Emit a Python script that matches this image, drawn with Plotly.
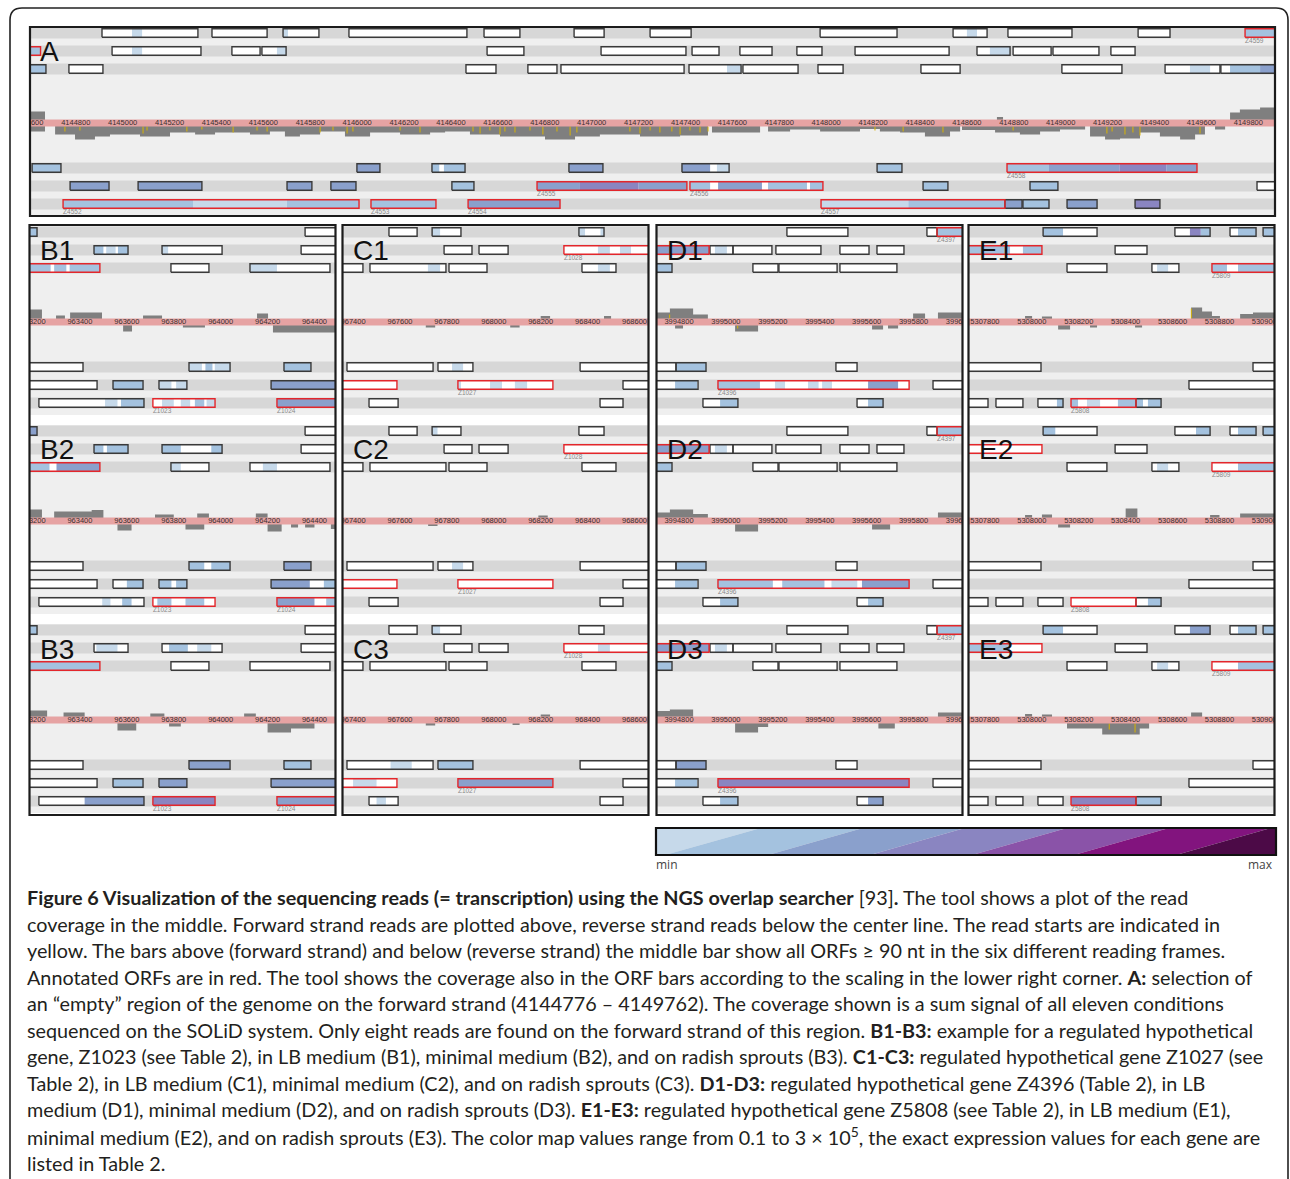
import plotly.graph_objects as go

W, H = 1290, 1179
BP_PER_PX = 4.264          # genome zoom shared by every panel

# colour steps of the coverage scale, low -> high
SCALE_COLORS = ["#c6d9ea", "#a4c2df", "#8aa0cc", "#8a85c1", "#8a53a8", "#82147e", "#4c0a47"]

# ---------------------------------------------------------------- panel A
A_START = 4144605
A_TICKS = [4144600, 4144800, 4145000, 4145200, 4145400, 4145600, 4145800, 4146000,
           4146200, 4146400, 4146600, 4146800, 4147000, 4147200, 4147400, 4147600,
           4147800, 4148000, 4148200, 4148400, 4148600, 4148800, 4149000, 4149200,
           4149400, 4149600, 4149800]
# frame, start, end, annotated, label
A_ORFS = [
    ("+1", 4144912, 4145321, False, ""), ("+1", 4145381, 4145616, False, ""),
    ("+1", 4145684, 4145837, False, ""), ("+1", 4145965, 4146468, False, ""),
    ("+1", 4146541, 4146694, False, ""), ("+1", 4146925, 4147053, False, ""),
    ("+1", 4147249, 4147424, False, ""), ("+1", 4147974, 4148302, False, ""),
    ("+1", 4148541, 4148686, False, ""), ("+1", 4148775, 4149048, False, ""),
    ("+1", 4149330, 4149466, False, ""), ("+1", 4149786, 4149990, True, "Z4559"),
    ("+2", 4144540, 4144650, True, ""), ("+2", 4144955, 4145334, False, ""),
    ("+2", 4145466, 4145586, False, ""), ("+2", 4145594, 4145697, False, ""),
    ("+2", 4146554, 4146711, False, ""), ("+2", 4147040, 4147402, False, ""),
    ("+2", 4147428, 4147543, False, ""), ("+2", 4147632, 4147769, False, ""),
    ("+2", 4147875, 4147982, False, ""), ("+2", 4148123, 4148524, False, ""),
    ("+2", 4148643, 4148784, False, ""), ("+2", 4148797, 4148959, False, ""),
    ("+2", 4148967, 4149163, False, ""), ("+2", 4149214, 4149317, False, ""),
    ("+3", 4144540, 4144673, False, ""), ("+3", 4144771, 4144916, False, ""),
    ("+3", 4146464, 4146592, False, ""), ("+3", 4146728, 4146852, False, ""),
    ("+3", 4146869, 4147394, False, ""), ("+3", 4147415, 4147637, False, ""),
    ("+3", 4147645, 4147880, False, ""), ("+3", 4147965, 4148072, False, ""),
    ("+3", 4148404, 4148571, False, ""), ("+3", 4149005, 4149261, False, ""),
    ("+3", 4149445, 4149679, False, ""), ("+3", 4149683, 4149990, False, ""),
    ("-1", 4144614, 4144737, False, ""), ("-1", 4145999, 4146097, False, ""),
    ("-1", 4146319, 4146460, False, ""), ("-1", 4146903, 4147048, False, ""),
    ("-1", 4147385, 4147586, False, ""), ("-1", 4148217, 4148323, False, ""),
    ("-1", 4148771, 4149581, True, "Z4558"),
    ("-2", 4144776, 4144942, False, ""), ("-2", 4145066, 4145338, False, ""),
    ("-2", 4145701, 4145807, False, ""), ("-2", 4145888, 4145995, False, ""),
    ("-2", 4146404, 4146498, False, ""), ("-2", 4146767, 4147406, True, "Z4555"),
    ("-2", 4147419, 4147986, True, "Z4556"), ("-2", 4148413, 4148519, False, ""),
    ("-2", 4148869, 4148988, False, ""), ("-2", 4149837, 4149990, False, ""),
    ("-3", 4144746, 4146008, True, "Z4552"), ("-3", 4146059, 4146336, True, "Z4553"),
    ("-3", 4146473, 4146865, True, "Z4554"), ("-3", 4147978, 4148762, True, "Z4557"),
    ("-3", 4148762, 4148835, False, ""), ("-3", 4148839, 4148950, False, ""),
    ("-3", 4149027, 4149155, False, ""), ("-3", 4149317, 4149423, False, ""),
]
# frame, start, end, colour step of the read coverage inside an ORF bar
A_PATCHES = [
    ("+1", 4145040, 4145083, 0), ("+1", 4145684, 4145705, 0), ("+1", 4148600, 4148643, 0),
    ("+1", 4149786, 4149990, 1),
    ("+2", 4144540, 4144650, 1), ("+2", 4145040, 4145083, 0), ("+2", 4145658, 4145697, 0),
    ("+2", 4148698, 4148784, 0),
    ("+3", 4144540, 4144673, 1), ("+3", 4147577, 4147637, 0), ("+3", 4149551, 4149637, 0),
    ("+3", 4149722, 4149850, 1), ("+3", 4149850, 4149990, 2),
    ("-1", 4144614, 4144737, 1), ("-1", 4145999, 4146097, 2), ("-1", 4146319, 4146350, 1),
    ("-1", 4146370, 4146460, 1), ("-1", 4146903, 4147048, 2), ("-1", 4147385, 4147505, 2),
    ("-1", 4147534, 4147586, 0), ("-1", 4148217, 4148323, 1), ("-1", 4148771, 4148950, 1),
    ("-1", 4148950, 4149250, 2), ("-1", 4149250, 4149450, 3), ("-1", 4149450, 4149581, 2),
    ("-2", 4144776, 4144942, 2), ("-2", 4145066, 4145338, 2), ("-2", 4145701, 4145807, 2),
    ("-2", 4145888, 4145995, 2), ("-2", 4146404, 4146498, 1), ("-2", 4146767, 4146950, 2),
    ("-2", 4146950, 4147200, 3), ("-2", 4147200, 4147406, 2), ("-2", 4147419, 4147505, 1),
    ("-2", 4147539, 4147726, 2), ("-2", 4147752, 4147918, 1), ("-2", 4147931, 4147986, 1),
    ("-2", 4148413, 4148519, 1), ("-2", 4148869, 4148988, 1),
    ("-3", 4144746, 4145300, 1), ("-3", 4145300, 4145700, 0), ("-3", 4145700, 4146008, 1),
    ("-3", 4146059, 4146336, 1), ("-3", 4146473, 4146865, 2), ("-3", 4147978, 4148350, 0),
    ("-3", 4148350, 4148762, 1), ("-3", 4148762, 4148835, 2), ("-3", 4148839, 4148950, 1),
    ("-3", 4149027, 4149155, 2), ("-3", 4149317, 4149423, 3),
]
# start, end, height (forward strand > 0, reverse strand < 0)
A_COVERAGE = [
    (4144560, 4144669, 11.5), (4144560, 4144669, -8.5),
    (4144712, 4144797, -11.5), (4144797, 4144882, -16.5), (4144882, 4144946, -13.5),
    (4144946, 4145074, -11.5), (4145074, 4145202, -13.5), (4145202, 4145309, -9.5),
    (4145309, 4145394, -11.5), (4145394, 4145543, -9.5), (4145543, 4145628, -11.5),
    (4145628, 4145692, -8.5), (4145692, 4145756, -13.5), (4145756, 4145842, -11.5),
    (4145842, 4145948, -8.5), (4145948, 4146055, -13.5), (4146055, 4146183, -9.5),
    (4146183, 4146311, -11.5), (4146311, 4146375, -9.5), (4146375, 4146481, -8.5),
    (4146481, 4146609, -11.5), (4146609, 4146801, -13.5), (4146801, 4146929, -16.5),
    (4146929, 4147035, -13.5), (4147035, 4147206, -11.5), (4147206, 4147377, -13.5),
    (4147377, 4147496, -12.5), (4147513, 4147718, -9.5), (4147752, 4147846, -8.5),
    (4147846, 4147974, -6.5), (4147974, 4148144, -8.5), (4148144, 4148229, -6.0),
    (4148229, 4148315, -8.5), (4148315, 4148421, -9.5), (4148421, 4148528, -13.5),
    (4148528, 4148571, -8.5), (4148579, 4148720, -7.0), (4148728, 4148754, 6.0),
    (4148720, 4148826, -9.5), (4148826, 4148912, -11.5), (4148912, 4148997, -8.5),
    (4148997, 4149104, -6.5), (4149125, 4149189, -13.5), (4149189, 4149253, -16.5),
    (4149253, 4149338, -15.5), (4149338, 4149423, -9.5), (4149423, 4149509, -13.5),
    (4149509, 4149573, -16.5), (4149573, 4149615, -11.5), (4149658, 4149701, -6.5),
    (4149722, 4149764, 10.5), (4149764, 4149850, 13.5), (4149850, 4149990, 15.5),
]
# read start position, tick length (sign = strand)
A_READ_STARTS = [
    (4144754, -5), (4144818, -4), (4145087, -7), (4145104, -4), (4145274, -5), (4145338, -3),
    (4145471, -6), (4145573, -4), (4145616, -5), (4145842, -6), (4145897, -4), (4145957, -7),
    (4145982, -5), (4146183, -4), (4146268, -6), (4146494, -5), (4146524, -7), (4146566, -4),
    (4146609, -8), (4146630, -5), (4146673, -6), (4146737, -4), (4146792, -8), (4146852, -5),
    (4146908, -9), (4146937, -6), (4147163, -5), (4147206, -7), (4147249, -4), (4147291, -6),
    (4147342, -5), (4147377, -8), (4147419, -4), (4147462, -6), (4147496, -5), (4148208, -4),
    (4148328, -5), (4148498, -6), (4148797, -4), (4149197, -7), (4149219, -5), (4149274, -8),
    (4149308, -6), (4149338, -9), (4149594, -7),
]

# ---------------------------------------------------------------- panels B-E
B_START = 963187
B_TICKS = [963200, 963400, 963600, 963800, 964000, 964200, 964400]
B_ORFS = [
    ("+1", 963150, 963217, False, ""), ("+1", 964360, 964520, False, ""),
    ("+2", 963460, 963605, False, ""), ("+2", 963750, 964006, False, ""), ("+2", 964343, 964520, False, ""),
    ("+3", 963150, 963485, True, ""), ("+3", 963788, 963950, False, ""), ("+3", 964125, 964466, False, ""),
    ("-1", 963150, 963413, False, ""), ("-1", 963865, 964040, False, ""), ("-1", 964270, 964385, False, ""),
    ("-2", 963150, 963473, False, ""), ("-2", 963541, 963669, False, ""), ("-2", 963737, 963856, False, ""),
    ("-2", 964215, 964520, False, ""),
    ("-3", 963225, 963673, False, ""), ("-3", 963711, 963976, True, "Z1023"), ("-3", 964240, 964520, True, "Z1024"),
]
B1_PATCHES = [
    ("+1", 963150, 963217, 1),
    ("+2", 963460, 963500, 1), ("+2", 963512, 963552, 0), ("+2", 963562, 963605, 1), ("+2", 963750, 963776, 0),
    ("+3", 963150, 963275, 1), ("+3", 963290, 963342, 1), ("+3", 963356, 963485, 1), ("+3", 964125, 964240, 0),
    ("-1", 963865, 963920, 0), ("-1", 963935, 963965, 1), ("-1", 963975, 964040, 0), ("-1", 964270, 964385, 1),
    ("-2", 963541, 963669, 1), ("-2", 963737, 963790, 0), ("-2", 963810, 963856, 0), ("-2", 964215, 964520, 2),
    ("-3", 963507, 963560, 0), ("-3", 963575, 963673, 1), ("-3", 963750, 963800, 0), ("-3", 963830, 963870, 0),
    ("-3", 963890, 963930, 1), ("-3", 963940, 963976, 0), ("-3", 964240, 964520, 2),
]
B2_PATCHES = [
    ("+1", 963150, 963217, 2),
    ("+2", 963460, 963500, 1), ("+2", 963515, 963605, 1), ("+2", 963750, 963830, 1), ("+2", 963960, 964006, 1),
    ("+3", 963150, 963270, 1), ("+3", 963300, 963485, 2), ("+3", 963788, 963830, 0), ("+3", 964180, 964240, 0),
    ("-1", 963865, 963930, 1), ("-1", 963960, 964040, 1), ("-1", 964270, 964385, 2),
    ("-2", 963600, 963669, 1), ("-2", 963737, 963790, 1), ("-2", 963810, 963856, 1),
    ("-2", 964215, 964380, 2), ("-2", 964440, 964520, 1),
    ("-3", 963495, 963530, 0), ("-3", 963580, 963620, 1), ("-3", 963730, 963790, 1), ("-3", 963850, 963930, 1),
    ("-3", 964240, 964400, 2), ("-3", 964450, 964520, 1),
]
B3_PATCHES = [
    ("+1", 963150, 963217, 1),
    ("+2", 963470, 963560, 0), ("+2", 963780, 963860, 1), ("+2", 963900, 963960, 0),
    ("+3", 963150, 963485, 1),
    ("-1", 963865, 964040, 2), ("-1", 964270, 964385, 1),
    ("-2", 963541, 963669, 1), ("-2", 963737, 963856, 2), ("-2", 964215, 964520, 2),
    ("-3", 963420, 963673, 2), ("-3", 963711, 963976, 3), ("-3", 964240, 964520, 2),
]
B1_COVERAGE = [(963150, 963238, 12.5), (963298, 963336, 6.5), (963358, 963494, 9.5), (963669, 963750, 6.5),
               (964155, 964202, 8.5), (963584, 963622, -9.5), (963839, 963933, -5.5), (964223, 964520, -10.5)]
B2_COVERAGE = [(963150, 963238, 11.5), (963290, 963450, 9.5), (963450, 963500, 11.0), (963720, 963800, 6.5),
               (963900, 963950, 7.5), (964150, 964200, 7.5), (963560, 963620, -9.5), (963850, 963930, -8.5),
               (964200, 964260, -10.5), (964300, 964330, -6.5), (964360, 964400, -6.5), (964470, 964520, -8.0)]
B3_COVERAGE = [(963150, 963260, 9.5), (963330, 963420, 7.5), (963700, 963760, 6.5), (964100, 964150, 6.5),
               (963560, 963640, -10.5), (963780, 963830, -6.5), (964200, 964300, -12.5), (964300, 964400, -8.5)]

C_START = 967357
C_TICKS = [967400, 967600, 967800, 968000, 968200, 968400, 968600]
C_ORFS = [
    ("+1", 967553, 967673, False, ""), ("+1", 967737, 967860, False, ""), ("+1", 968363, 968470, False, ""),
    ("+2", 967788, 967907, False, ""), ("+2", 967937, 968061, False, ""), ("+2", 968299, 968700, True, "Z1028"),
    ("+3", 967320, 967442, False, ""), ("+3", 967472, 967796, False, ""), ("+3", 967809, 967971, False, ""),
    ("+3", 968376, 968521, False, ""),
    ("-1", 967374, 967741, False, ""), ("-1", 967762, 967911, False, ""), ("-1", 968368, 968700, False, ""),
    ("-2", 967320, 967587, True, ""), ("-2", 967847, 968252, True, "Z1027"), ("-2", 968551, 968700, False, ""),
    ("-3", 967468, 967592, False, ""), ("-3", 968453, 968551, False, ""),
]
C1_PATCHES = [
    ("+1", 967737, 967771, 0), ("+1", 968363, 968389, 0), ("+1", 968455, 968470, 0),
    ("+2", 968444, 968495, 0), ("+2", 968538, 968585, 0),
    ("+3", 967719, 967771, 0), ("+3", 968444, 968495, 0),
    ("-1", 967822, 967869, 0),
    ("-2", 967847, 967860, 0), ("-2", 967984, 968035, 0), ("-2", 968090, 968142, 0),
]
C2_PATCHES = [("+1", 967737, 967760, 0), ("-1", 967822, 967869, 0)]
C3_PATCHES = [
    ("+1", 967737, 967771, 0), ("+2", 968444, 968495, 0), ("-1", 967560, 967650, 0),
    ("-1", 967762, 967911, 1), ("-2", 967400, 967500, 0), ("-2", 967847, 968252, 2), ("-3", 967500, 967540, 0),
]
C1_COVERAGE = [(968200, 968240, 6.0), (968470, 968500, 6.0), (967710, 967750, -5.5), (968070, 968110, -5.5)]
C2_COVERAGE = [(968190, 968230, 5.5), (967720, 967760, -5.0)]
C3_COVERAGE = [(968200, 968240, 5.5), (967710, 967750, -5.5), (968080, 968110, -5.0)]

D_START = 3994706
D_TICKS = [3994800, 3995000, 3995200, 3995400, 3995600, 3995800, 3996000]
D_ORFS = [
    ("+1", 3995260, 3995520, False, ""), ("+1", 3995857, 3995900, False, ""),
    ("+1", 3995900, 3996050, True, "Z4397"),
    ("+2", 3994680, 3994928, True, ""), ("+2", 3994932, 3995030, False, ""), ("+2", 3995030, 3995196, False, ""),
    ("+2", 3995213, 3995405, False, ""), ("+2", 3995486, 3995610, False, ""), ("+2", 3995644, 3995759, False, ""),
    ("+3", 3994680, 3994770, False, ""), ("+3", 3995115, 3995222, False, ""), ("+3", 3995226, 3995474, False, ""),
    ("+3", 3995486, 3995729, False, ""),
    ("-1", 3994680, 3994787, False, ""), ("-1", 3994787, 3994915, False, ""), ("-1", 3995469, 3995559, False, ""),
    ("-2", 3994680, 3994881, False, ""), ("-2", 3994966, 3995781, True, "Z4396"), ("-2", 3995883, 3996050, False, ""),
    ("-3", 3994902, 3995051, False, ""), ("-3", 3995559, 3995670, False, ""),
]
D1_PATCHES = [
    ("+1", 3995900, 3996050, 1),
    ("+2", 3994680, 3994928, 2), ("+2", 3994953, 3995004, 0),
    ("+3", 3994680, 3994770, 1),
    ("-1", 3994787, 3994915, 1),
    ("-2", 3994783, 3994877, 1), ("-2", 3994966, 3995145, 1), ("-2", 3995209, 3995252, 0),
    ("-2", 3995350, 3995395, 0), ("-2", 3995410, 3995452, 0), ("-2", 3995606, 3995734, 2),
    ("-3", 3994975, 3995051, 1), ("-3", 3995606, 3995670, 1),
]
D2_PATCHES = [
    ("+1", 3995900, 3996050, 1),
    ("+2", 3994680, 3994928, 2), ("+2", 3994953, 3995004, 0),
    ("+3", 3994680, 3994770, 1),
    ("-1", 3994787, 3994915, 1),
    ("-2", 3994783, 3994877, 1), ("-2", 3994966, 3995200, 1), ("-2", 3995240, 3995420, 1),
    ("-2", 3995450, 3995560, 0), ("-2", 3995580, 3995781, 2),
    ("-3", 3994975, 3995051, 1), ("-3", 3995606, 3995670, 1),
]
D3_PATCHES = [
    ("+1", 3995900, 3996050, 1),
    ("+2", 3994680, 3994928, 2), ("+2", 3994953, 3995004, 0),
    ("+3", 3994680, 3994770, 1),
    ("-1", 3994787, 3994915, 2),
    ("-2", 3994783, 3994877, 1), ("-2", 3994966, 3995781, 3),
    ("-3", 3994975, 3995051, 1), ("-3", 3995606, 3995670, 2),
]
D1_COVERAGE = [(3994680, 3994761, 9.5), (3994761, 3994860, 13.5), (3994860, 3994923, 7.5),
               (3995798, 3995849, 8.5), (3995904, 3996050, 9.5),
               (3994783, 3994817, -6.5), (3995039, 3995137, -9.5), (3995623, 3995670, -7.5), (3995691, 3995734, -6.5)]
D2_COVERAGE = [(3994680, 3994761, 8.5), (3994761, 3994860, 11.5), (3994860, 3994923, 7.0),
               (3995904, 3996050, 8.5),
               (3995039, 3995137, -10.5), (3995623, 3995700, -8.5)]
D3_COVERAGE = [(3994680, 3994761, 9.0), (3994761, 3994860, 10.5),
               (3995904, 3996050, 7.5),
               (3995039, 3995137, -12.5), (3995137, 3995180, -7.0), (3995650, 3995720, -8.5)]

E_START = 5307732
E_TICKS = [5307800, 5308000, 5308200, 5308400, 5308600, 5308800, 5309000]
E_ORFS = [
    ("+1", 5308048, 5308278, False, ""), ("+1", 5308610, 5308760, False, ""), ("+1", 5308845, 5308956, False, ""),
    ("+1", 5308986, 5309080, False, ""),
    ("+2", 5307700, 5308043, True, ""), ("+2", 5308355, 5308491, False, ""),
    ("+3", 5308150, 5308320, False, ""), ("+3", 5308512, 5308627, False, ""), ("+3", 5308768, 5309080, True, "Z5809"),
    ("-1", 5307700, 5308039, False, ""), ("-1", 5308943, 5309080, False, ""),
    ("-2", 5308670, 5309080, False, ""),
    ("-3", 5307700, 5307813, False, ""), ("-3", 5307847, 5307962, False, ""), ("-3", 5308026, 5308133, False, ""),
    ("-3", 5308167, 5308444, True, "Z5808"), ("-3", 5308444, 5308551, False, ""),
]
E1_PATCHES = [
    ("+1", 5308048, 5308133, 1), ("+1", 5308674, 5308720, 3), ("+1", 5308720, 5308760, 1),
    ("+1", 5308879, 5308956, 1), ("+1", 5308986, 5309080, 1),
    ("+2", 5307700, 5307907, 1), ("+2", 5307962, 5308043, 1),
    ("+3", 5308534, 5308581, 0), ("+3", 5308768, 5308832, 1), ("+3", 5308879, 5309080, 1),
    ("-3", 5308107, 5308133, 1), ("-3", 5308167, 5308197, 1), ("-3", 5308235, 5308291, 0),
    ("-3", 5308367, 5308444, 1), ("-3", 5308444, 5308474, 1), ("-3", 5308495, 5308551, 1),
]
E2_PATCHES = [
    ("+1", 5308048, 5308100, 1), ("+1", 5308700, 5308760, 1), ("+1", 5308879, 5308956, 1),
    ("+1", 5308986, 5309080, 1), ("+3", 5308534, 5308581, 0), ("+3", 5308879, 5309080, 1),
    ("-3", 5308495, 5308551, 1),
]
E3_PATCHES = [
    ("+1", 5308048, 5308133, 1), ("+1", 5308674, 5308760, 2), ("+1", 5308879, 5308956, 1),
    ("+1", 5308986, 5309080, 1), ("+2", 5307700, 5307907, 1),
    ("+3", 5308534, 5308581, 0), ("+3", 5308879, 5309080, 1),
    ("-3", 5308167, 5308444, 3), ("-3", 5308444, 5308551, 1),
]
E1_COVERAGE = [(5307971, 5308001, 6.0), (5308043, 5308086, 5.5), (5308679, 5308726, 14.5),
               (5308726, 5308768, 10.5), (5308768, 5308802, 6.0), (5308888, 5308943, 8.0),
               (5308943, 5309080, 9.5),
               (5308112, 5308163, -7.5), (5308248, 5308278, -5.5), (5308440, 5308470, -5.5)]
E2_COVERAGE = [(5307971, 5308001, 6.0), (5308043, 5308086, 6.5), (5308400, 5308450, 12.5),
               (5308760, 5308800, 6.0), (5308888, 5309080, 7.5),
               (5308112, 5308163, -6.5)]
E3_COVERAGE = [(5307971, 5308001, 6.0), (5308043, 5308086, 5.5), (5308679, 5308726, 7.5),
               (5308150, 5308300, -8.5), (5308300, 5308460, -14.5), (5308460, 5308500, -8.5)]

D1_READ_STARTS = [(3994760, 4), (3995050, -3)]
E1_READ_STARTS = [(5308680, 10)]
E3_READ_STARTS = [(5308440, -9), (5308330, -6)]

# ---------------------------------------------------------------- layout constants
FRAME_Y = {"+1": 90, "+2": 72, "+3": 54, "-1": -45, "-2": -63, "-3": -81}
Y_RANGE = [-93, 96]
LANE_HALF = 5.5
BOX_HALF = 4.2
BAND_HALF = 3.5

COL_PX = {"B": (30, 335), "C": (343, 648), "D": (657, 962), "E": (969, 1274)}
ROW_TOP = [226, 425, 624]
PANEL_H = 189

GRID = {
    "B": (B_START, B_TICKS, B_ORFS, [B1_PATCHES, B2_PATCHES, B3_PATCHES],
          [B1_COVERAGE, B2_COVERAGE, B3_COVERAGE], [[], [], []]),
    "C": (C_START, C_TICKS, C_ORFS, [C1_PATCHES, C2_PATCHES, C3_PATCHES],
          [C1_COVERAGE, C2_COVERAGE, C3_COVERAGE], [[], [], []]),
    "D": (D_START, D_TICKS, D_ORFS, [D1_PATCHES, D2_PATCHES, D3_PATCHES],
          [D1_COVERAGE, D2_COVERAGE, D3_COVERAGE], [D1_READ_STARTS, [], []]),
    "E": (E_START, E_TICKS, E_ORFS, [E1_PATCHES, E2_PATCHES, E3_PATCHES],
          [E1_COVERAGE, E2_COVERAGE, E3_COVERAGE], [E1_READ_STARTS, [], E3_READ_STARTS]),
}


def px(x):
    return x / W


def py(y):
    return 1 - y / H


def rect(xs, ys, x0, x1, y0, y1):
    xs += [x0, x1, x1, x0, x0, None]
    ys += [y0, y0, y1, y1, y0, None]


def filled(xs, ys, color, xa, ya):
    return go.Scatter(x=xs, y=ys, xaxis=xa, yaxis=ya, mode="lines", fill="toself",
                      fillcolor=color, line=dict(width=0, color=color),
                      hoverinfo="skip", showlegend=False)


def outline(xs, ys, color, xa, ya, width=1.4):
    return go.Scatter(x=xs, y=ys, xaxis=xa, yaxis=ya, mode="lines",
                      line=dict(width=width, color=color),
                      hoverinfo="skip", showlegend=False)


fig = go.Figure()
layout_axes = {}
annotations = []
shapes = []

panels = [("A", A_START, A_TICKS, A_ORFS, A_PATCHES, A_COVERAGE, A_READ_STARTS, (30, 1275, 27, 216))]
for col, (start, ticks, orfs, patches, cov, reads) in GRID.items():
    x0, x1 = COL_PX[col]
    for r in range(3):
        panels.append((f"{col}{r + 1}", start, ticks, orfs, patches[r], cov[r], reads[r],
                       (x0, x1, ROW_TOP[r], ROW_TOP[r] + PANEL_H)))

for i, (name, start, ticks, orfs, patches, coverage, reads, (l, r, t, b)) in enumerate(panels, 1):
    sfx = "" if i == 1 else str(i)
    xa, ya = "x" + sfx, "y" + sfx
    end = start + (r - l) * BP_PER_PX
    layout_axes["xaxis" + sfx] = dict(domain=[px(l), px(r)], range=[start, end], visible=False,
                                      fixedrange=True, anchor=ya)
    layout_axes["yaxis" + sfx] = dict(domain=[py(b), py(t)], range=Y_RANGE, visible=False,
                                      fixedrange=True, anchor=xa)

    # reading-frame lanes
    xs, ys = [], []
    for fy in FRAME_Y.values():
        rect(xs, ys, start - 500, end + 500, fy - LANE_HALF, fy + LANE_HALF)
    fig.add_trace(filled(xs, ys, "#d7d7d7", xa, ya))

    # read coverage (forward above, reverse below)
    xs, ys = [], []
    for s, e, h in coverage:
        rect(xs, ys, s, e, 0, h)
    if xs:
        fig.add_trace(filled(xs, ys, "#7f7f7f", xa, ya))

    # read starts
    xs, ys = [], []
    for pos, ln in reads:
        base = BAND_HALF if ln > 0 else -BAND_HALF
        xs += [pos, pos, None]
        ys += [base, base + ln, None]
    if xs:
        fig.add_trace(outline(xs, ys, "#d9b400", xa, ya, width=1))

    # genome position bar, labelled only where the label fits inside the panel
    xs, ys = [], []
    rect(xs, ys, start - 500, end + 500, -BAND_HALF, BAND_HALF)
    fig.add_trace(filled(xs, ys, "#e6a3a3", xa, ya))
    fig.add_trace(go.Scatter(x=ticks, y=[0] * len(ticks), xaxis=xa, yaxis=ya, mode="text",
                             text=[str(v) for v in ticks], textposition="middle center",
                             textfont=dict(family="Liberation Sans", size=7.5, color="#3a3030"),
                             hoverinfo="skip", showlegend=False))

    # ORF bars: white body, coverage colouring, outline
    xs, ys = [], []
    for fr, s, e, ann, lab in orfs:
        y0 = FRAME_Y[fr]
        rect(xs, ys, s, e, y0 - BOX_HALF, y0 + BOX_HALF)
    fig.add_trace(filled(xs, ys, "#ffffff", xa, ya))
    for lvl in range(len(SCALE_COLORS)):
        xs, ys = [], []
        for fr, s, e, lv in patches:
            if lv == lvl:
                y0 = FRAME_Y[fr]
                rect(xs, ys, s, e, y0 - BOX_HALF, y0 + BOX_HALF)
        if xs:
            fig.add_trace(filled(xs, ys, SCALE_COLORS[lvl], xa, ya))
    for annotated, color in ((False, "#3a3a3a"), (True, "#e3262b")):
        xs, ys = [], []
        for fr, s, e, ann, lab in orfs:
            if ann == annotated:
                y0 = FRAME_Y[fr]
                rect(xs, ys, s, e, y0 - BOX_HALF, y0 + BOX_HALF)
        if xs:
            fig.add_trace(outline(xs, ys, color, xa, ya))
    labelled = [(s, FRAME_Y[fr] - 8.5, lab) for fr, s, e, ann, lab in orfs if lab]
    if labelled:
        fig.add_trace(go.Scatter(x=[v[0] for v in labelled], y=[v[1] for v in labelled],
                                 xaxis=xa, yaxis=ya, mode="text", text=[v[2] for v in labelled],
                                 textposition="middle right",
                                 textfont=dict(family="Liberation Sans", size=6.5, color="#8a8a8a"),
                                 hoverinfo="skip", showlegend=False))

    annotations.append(dict(text=name, x=px(l + 8), y=py(t + 25), xref="paper", yref="paper",
                            xanchor="left", yanchor="middle", showarrow=False,
                            font=dict(family="Liberation Sans", size=28, color="#111111")))

# panel frames
shapes.append(dict(type="rect", xref="paper", yref="paper", x0=px(30), x1=px(1275), y0=py(216), y1=py(27),
                   line=dict(color="#1c1c1c", width=2.2)))
for col, (l, r) in COL_PX.items():
    shapes.append(dict(type="rect", xref="paper", yref="paper", x0=px(l - 0.5), x1=px(r + 0.5),
                       y0=py(815), y1=py(225), line=dict(color="#1c1c1c", width=2.2)))

# colour scale
CB_STEPS_BOTTOM = [9, 112, 214, 316, 418, 520]
CB_STEPS_TOP = [105, 207, 309, 411, 513, 615]
CB_W, CB_H = 620, 27
ci = len(panels) + 1
cxa, cya = f"x{ci}", f"y{ci}"
layout_axes[f"xaxis{ci}"] = dict(domain=[px(656), px(1276)], range=[0, CB_W], visible=False,
                                 fixedrange=True, anchor=cya)
layout_axes[f"yaxis{ci}"] = dict(domain=[py(855), py(828)], range=[0, CB_H], visible=False,
                                 fixedrange=True, anchor=cxa)
lb_bot, lb_top = [0] + CB_STEPS_BOTTOM, [0] + CB_STEPS_TOP
rb_bot, rb_top = CB_STEPS_BOTTOM + [CB_W + 120], CB_STEPS_TOP + [CB_W + 120]
for k, color in enumerate(SCALE_COLORS):
    fig.add_trace(filled([lb_bot[k], rb_bot[k], rb_top[k], lb_top[k], lb_bot[k]],
                         [0, 0, CB_H, CB_H, 0], color, cxa, cya))
shapes.append(dict(type="rect", xref="paper", yref="paper", x0=px(656), x1=px(1276), y0=py(855), y1=py(828),
                   line=dict(color="#111111", width=2.2)))
annotations.append(dict(text="min", x=px(654), y=py(865), xref="paper", yref="paper", xanchor="left",
                        yanchor="middle", showarrow=False,
                        font=dict(family="Open Sans", size=12, color="#444444")))
annotations.append(dict(text="max", x=px(1275), y=py(865), xref="paper", yref="paper", xanchor="right",
                        yanchor="middle", showarrow=False,
                        font=dict(family="Open Sans", size=12, color="#444444")))

# outer frame of the figure
fx0, fx1, fy0, rad = 10, 1288, 8, 12
path = (f"M {px(fx0)},{py(H + 5)} L {px(fx0)},{py(fy0 + rad)} "
        f"Q {px(fx0)},{py(fy0)} {px(fx0 + rad)},{py(fy0)} L {px(fx1 - rad)},{py(fy0)} "
        f"Q {px(fx1)},{py(fy0)} {px(fx1)},{py(fy0 + rad)} L {px(fx1)},{py(H + 5)}")
shapes.append(dict(type="path", xref="paper", yref="paper", path=path, line=dict(color="#222222", width=1.6)))

# caption
CAPTION = [
    "<b>Figure 6 Visualization of the sequencing reads (= transcription) using the NGS overlap searcher</b> [93]<b>.</b> The tool shows a plot of the read",
    "coverage in the middle. Forward strand reads are plotted above, reverse strand reads below the center line. The read starts are indicated in",
    "yellow. The bars above (forward strand) and below (reverse strand) the middle bar show all ORFs ≥ 90 nt in the six different reading frames.",
    "Annotated ORFs are in red. The tool shows the coverage also in the ORF bars according to the scaling in the lower right corner. <b>A:</b> selection of",
    "an “empty” region of the genome on the forward strand (4144776 – 4149762). The coverage shown is a sum signal of all eleven conditions",
    "sequenced on the SOLiD system. Only eight reads are found on the forward strand of this region. <b>B1-B3:</b> example for a regulated hypothetical",
    "gene, Z1023 (see Table 2), in LB medium (B1), minimal medium (B2), and on radish sprouts (B3). <b>C1-C3:</b> regulated hypothetical gene Z1027 (see",
    "Table 2), in LB medium (C1), minimal medium (C2), and on radish sprouts (C3). <b>D1-D3:</b> regulated hypothetical gene Z4396 (Table 2), in LB",
    "medium (D1), minimal medium (D2), and on radish sprouts (D3). <b>E1-E3:</b> regulated hypothetical gene Z5808 (see Table 2), in LB medium (E1),",
    "minimal medium (E2), and on radish sprouts (E3). The color map values range from 0.1 to 3 × 10<sup>5</sup>, the exact expression values for each gene are",
    "listed in Table 2.",
]
for k, line in enumerate(CAPTION):
    annotations.append(dict(text=line, x=px(25), y=py(897 + 26.55 * k), xref="paper", yref="paper",
                            xanchor="left", yanchor="middle", showarrow=False,
                            font=dict(family="Lato", size=19.8, color="#231f20")))

fig.update_layout(width=W, height=H, margin=dict(l=0, r=0, t=0, b=0),
                  paper_bgcolor="#ffffff", plot_bgcolor="#efefef",
                  showlegend=False, annotations=annotations, shapes=shapes, **layout_axes)
fig.write_html("out.html")
